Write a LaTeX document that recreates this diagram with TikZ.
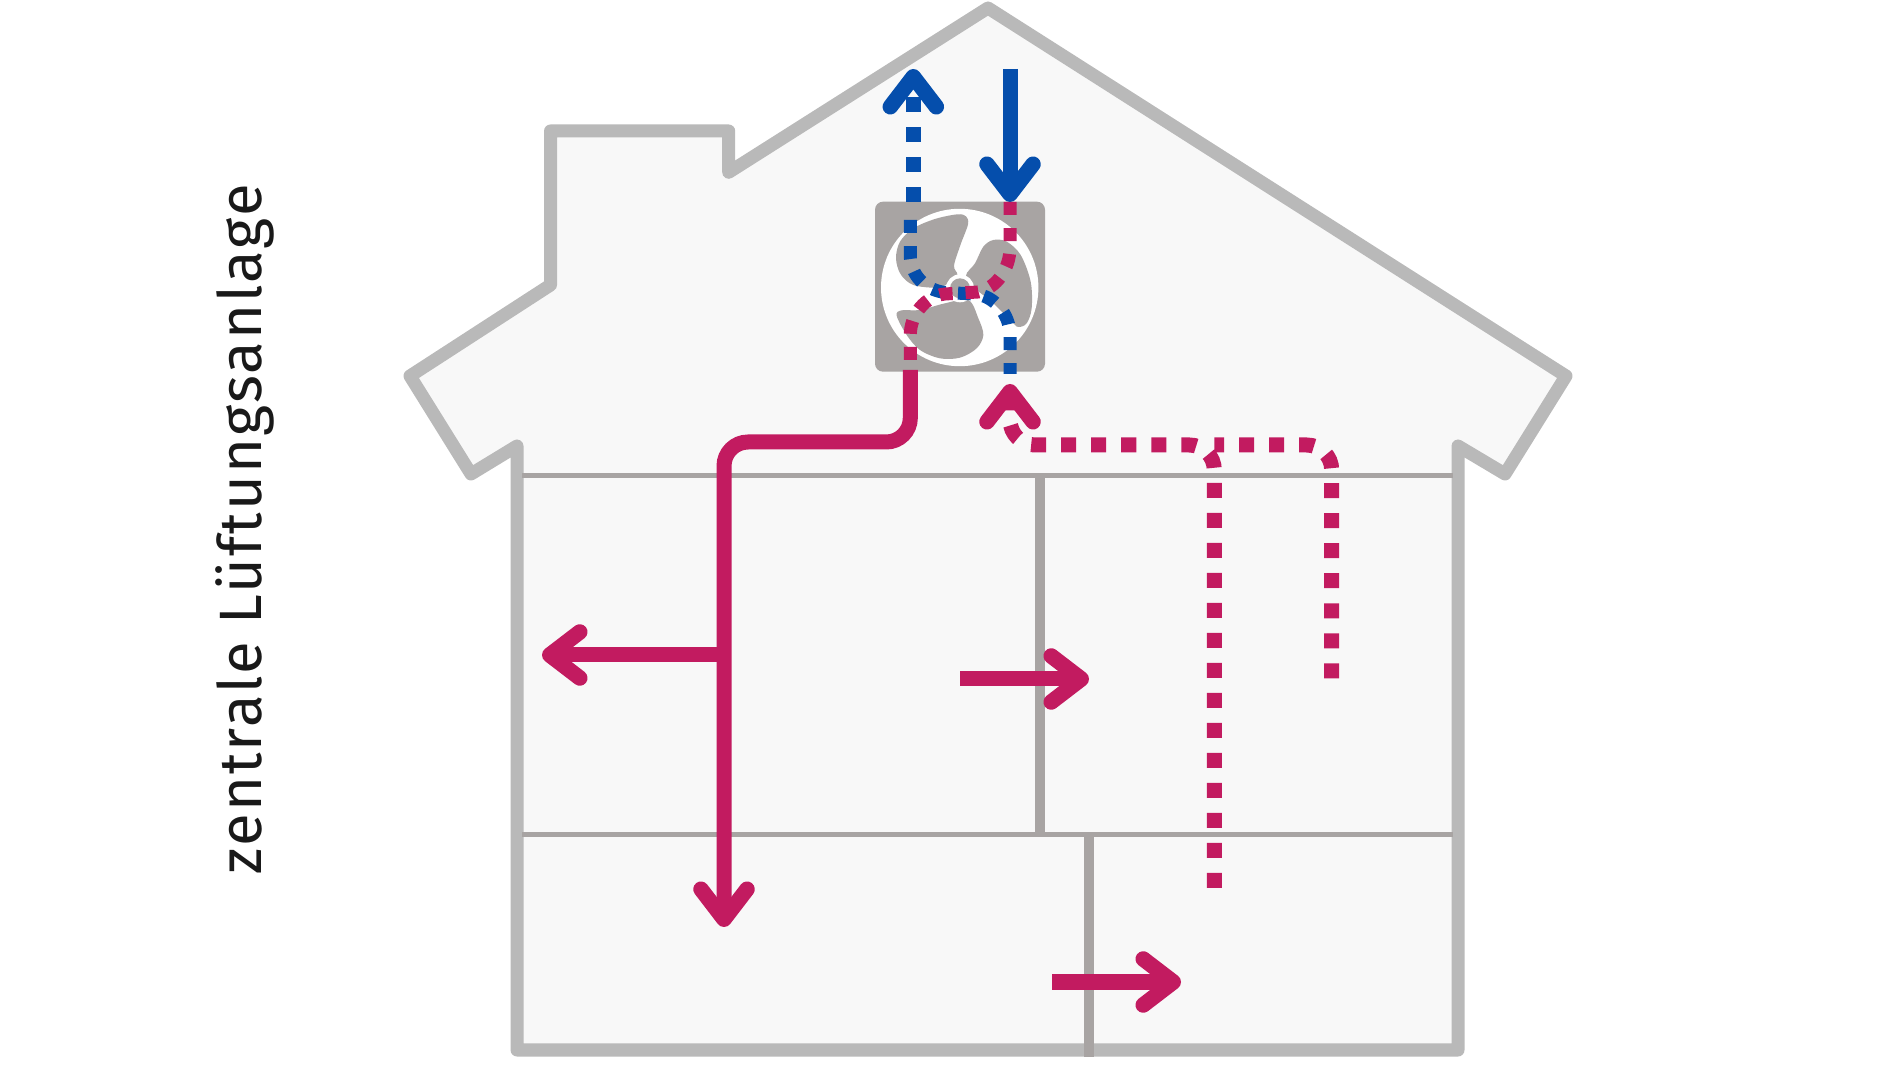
\documentclass[tikz,border=0pt]{standalone}
\usepackage{fontspec}
\setmainfont{Fira Sans}[LetterSpace=3.5]
\usetikzlibrary{arrows.meta}

\definecolor{wallgrey}{HTML}{B9B9B9}
\definecolor{roomgrey}{HTML}{A8A4A3}
\definecolor{housefill}{HTML}{F8F8F8}
\definecolor{supplyred}{HTML}{C21B60}
\definecolor{airblue}{HTML}{054EAC}

\tikzset{
	airhead/.style={-{Straight Barb[round,length=0.3cm,width=0.46cm,line width=0.155cm]}},
	airline/.style={line width=0.15cm},
	airdots/.style={line width=0.15cm,dash pattern=on 0.15cm off 0.15cm,rounded corners=0.25cm},
	fandots/.style={line width=0.13cm,dash pattern=on 0.13cm off 0.13cm},
	thinwall/.style={draw=roomgrey,line width=0.045cm},
	thickwall/.style={draw=roomgrey,line width=0.1cm},
	blade/.style={fill=roomgrey,draw=none}
}

\begin{document}
\begin{tikzpicture}[x=0.01cm,y=-0.01cm]
	\useasboundingbox (0,0) rectangle (1900,1080);

	% house
	\draw[draw=wallgrey,fill=housefill,line width=0.13cm,line join=round]
		(988,8) -- (1566,376) -- (1505,474) -- (1458,446) -- (1458,1050) -- (517,1050)
		-- (517,446) -- (471,474) -- (410,376) -- (550.5,285) -- (550.5,131)
		-- (728.7,131) -- (728.7,172.3) -- cycle;

	% rooms
	\draw[thinwall] (522,475.7) -- (1453,475.7);
	\draw[thinwall] (522,834.3) -- (1453,834.3);
	\draw[thickwall] (1039.5,476) -- (1039.5,834);
	\draw[thickwall] (1089,834) -- (1089,1056.5);

	% fan
	\fill[roomgrey,rounded corners=0.08cm] (875,201.7) rectangle (1045,371.7);
	\fill[white] (959.7,287.5) circle (78.7);
	\begin{scope}[shift={(870,195)},scale=1/3]
		\path[blade] plot[smooth cycle,tension=0.55] coordinates {(288,64) (294,88) (272,148) (252,212) (262,240)
			(235,265) (200,278) (130,270) (92,238) (78,190) (90,140) (130,100) (195,72) (262,58)};
		\path[blade] plot[smooth cycle,tension=0.55] coordinates {(446,396) (470,385) (485,340) (482,260) (452,180)
			(410,140) (370,135) (340,155) (315,205) (288,242) (315,280) (370,325) (430,385)};
		\path[blade] plot[smooth cycle,tension=0.55] coordinates {(80,362) (95,346) (150,345) (225,325) (295,315)
			(325,370) (340,420) (320,460) (270,488) (210,490) (150,465) (110,420)};
		\fill[white] (270,280) circle (42);
		\fill[roomgrey] (270,280) circle (30);
	\end{scope}

	% end points of the air lines
	\coordinate (exhaustFan) at (910.3,220);
	\coordinate (exhaustOut) at (913.3,202);
	\coordinate (exhaustTip) at (913.3,69);
	\coordinate (freshIn) at (1010,69);
	\coordinate (freshTip) at (1010,202);
	\coordinate (fanIn) at (1010,202);
	\coordinate (fanOut) at (910.3,370);
	\coordinate (backFan) at (1010,374);
	\coordinate (backTip) at (1010,384);
	\coordinate (ductDown) at (724,927);
	\coordinate (ductBranch) at (724,655);
	\coordinate (ductLeft) at (542,655);
	\coordinate (upperFrom) at (960,679);
	\coordinate (upperTo) at (1089,679);
	\coordinate (lowerFrom) at (1052,982);
	\coordinate (lowerTo) at (1181,982);
	\coordinate (returnNear) at (1331.7,678.3);
	\coordinate (returnFar) at (1214.3,888);
	\coordinate (returnJoin) at (1214.3,445);

	% air lines
	\draw[airdots,draw=supplyred] (returnNear) -- (1331.7,445) -- (returnJoin);
	\draw[airdots,draw=supplyred,airhead] (returnFar) -- (returnJoin) -- (1010,445) -- (backTip);
	\draw[airline,draw=supplyred,airhead,rounded corners=0.24cm] (fanOut) -- (910.3,442) -- (724,442) -- (ductDown);
	\draw[airline,draw=supplyred,airhead] (ductBranch) -- (ductLeft);
	\draw[airline,draw=supplyred,airhead] (upperFrom) -- (upperTo);
	\draw[airline,draw=supplyred,airhead] (lowerFrom) -- (lowerTo);
	\draw[airline,draw=airblue,airhead] (freshIn) -- (freshTip);
	\draw[airdots,draw=airblue,airhead] (exhaustOut) -- (exhaustTip);
	\draw[fandots,draw=airblue] (exhaustFan) -- (910.3,255) .. controls (910.3,275) and (925,290) .. (945,292.5)
		-- (975,294) .. controls (995,296) and (1010,315) .. (1010,335) -- (backFan);
	\draw[fandots,draw=supplyred] (fanIn) -- (1010,248) .. controls (1010,268) and (997,288) .. (978,292)
		-- (945,294) .. controls (925,296) and (910.3,315) .. (910.3,335) -- (fanOut);

	\node[rotate=90,anchor=base west,inner sep=0pt,font=\fontsize{17}{20}\selectfont,text=black!90] (title) at (261.7,875) {zentrale Lüftungsanlage};
\end{tikzpicture}
\end{document}
